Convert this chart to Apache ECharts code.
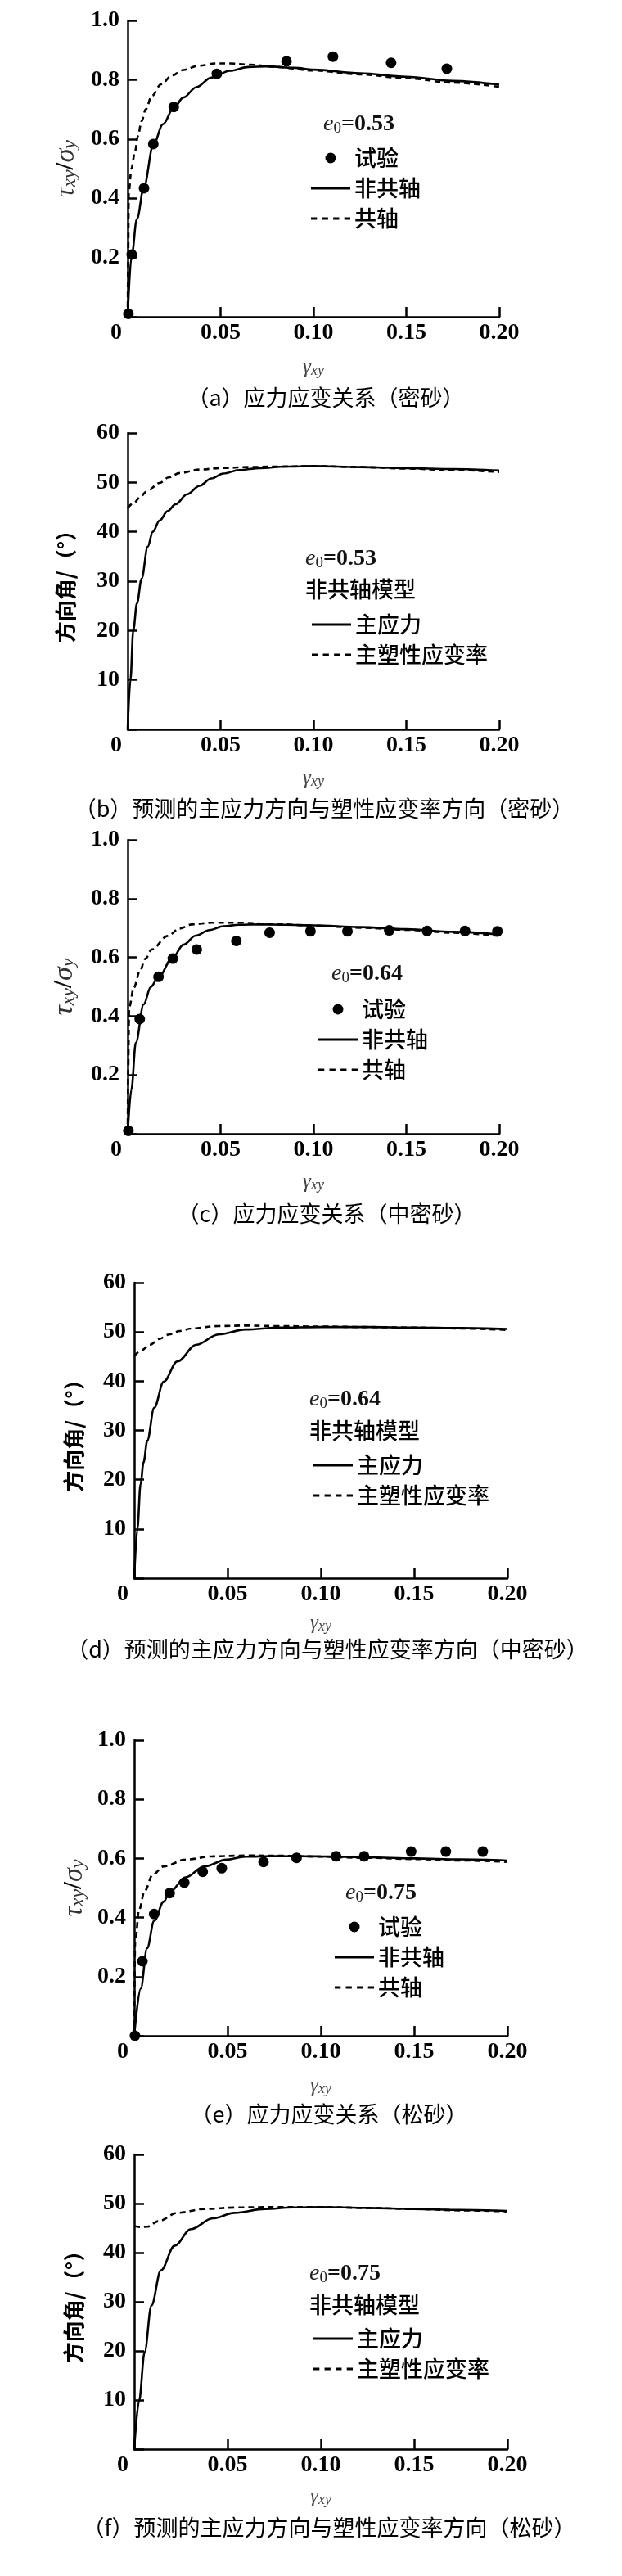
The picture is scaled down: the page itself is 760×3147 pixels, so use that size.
<!DOCTYPE html>
<html>
<head>
<meta charset="utf-8">
<script src="https://cdn.jsdelivr.net/npm/echarts/dist/echarts.min.js"></script>
<style>
html,body{margin:0;padding:0;background:#fff;}
#c{width:760px;height:3147px;}
</style>
</head>
<body>
<div id="c"></div>
<script>
// ---------- tick labels ----------
const xTickLabels = ['0', '0.05', '0.10', '0.15', '0.20'];
const stressTickLabels = ['', '0.2', '0.4', '0.6', '0.8', '1.0'];
const angleTickLabels = ['', '10', '20', '30', '40', '50', '60'];

// ---------- (a) dense sand, e0 = 0.53 ----------
const aTestGamma = [0.0004, 0.0022, 0.0088, 0.0138, 0.0248, 0.048, 0.0855, 0.1105, 0.1418, 0.1718];
const aTestRatio = [0.01, 0.21, 0.434, 0.583, 0.708, 0.82, 0.862, 0.878, 0.857, 0.837];
const aNonCoaxGamma = [0, 0.002, 0.005, 0.0088, 0.0138, 0.019, 0.0248, 0.030, 0.037, 0.045, 0.055, 0.065, 0.075, 0.090, 0.100, 0.125, 0.150, 0.175, 0.200];
const aNonCoaxRatio = [0, 0.20, 0.33, 0.44, 0.58, 0.65, 0.705, 0.74, 0.775, 0.807, 0.83, 0.843, 0.845, 0.840, 0.834, 0.822, 0.810, 0.796, 0.783];
const aCoaxGamma = [0, 0.0003, 0.0006, 0.002, 0.004, 0.0055, 0.0075, 0.0097, 0.013, 0.018, 0.024, 0.030, 0.038, 0.047, 0.055, 0.065, 0.080, 0.100, 0.125, 0.150, 0.175, 0.200];
const aCoaxRatio = [0, 0.20, 0.42, 0.50, 0.56, 0.61, 0.66, 0.70, 0.745, 0.785, 0.815, 0.833, 0.847, 0.855, 0.855, 0.851, 0.843, 0.831, 0.818, 0.805, 0.790, 0.776];

// ---------- (b) dense sand directions ----------
const bStressGamma = [0, 0.0015, 0.003, 0.005, 0.0075, 0.0108, 0.0135, 0.0172, 0.0215, 0.0258, 0.032, 0.0387, 0.045, 0.0515, 0.060, 0.071, 0.085, 0.100, 0.125, 0.150, 0.175, 0.200];
const bStressAngle = [0, 10, 20, 25.5, 30.5, 37, 40, 42.3, 44.2, 45.6, 47.6, 49.3, 50.8, 51.8, 52.5, 52.9, 53.2, 53.3, 53.1, 52.9, 52.7, 52.4];
const bStrainGamma = [0, 0.0035, 0.0066, 0.010, 0.0172, 0.022, 0.028, 0.0387, 0.050, 0.065, 0.080, 0.100, 0.125, 0.150, 0.175, 0.200];
const bStrainAngle = [44.8, 45.9, 47.0, 48.1, 49.9, 51.0, 51.9, 52.6, 52.9, 53.1, 53.2, 53.3, 53.1, 52.8, 52.5, 52.1];

// ---------- (c) medium dense sand, e0 = 0.64 ----------
const cTestGamma = [0.0004, 0.0065, 0.0166, 0.0243, 0.0372, 0.0585, 0.0764, 0.0984, 0.1183, 0.1408, 0.1612, 0.1816, 0.199];
const cTestRatio = [0.01, 0.39, 0.534, 0.596, 0.627, 0.656, 0.684, 0.689, 0.689, 0.692, 0.690, 0.690, 0.689];
const cNonCoaxGamma = [0, 0.002, 0.0044, 0.0086, 0.0125, 0.0166, 0.0243, 0.030, 0.0366, 0.044, 0.0516, 0.060, 0.0717, 0.085, 0.100, 0.125, 0.150, 0.175, 0.200];
const cNonCoaxRatio = [0, 0.15, 0.31, 0.44, 0.50, 0.534, 0.60, 0.643, 0.674, 0.693, 0.706, 0.711, 0.712, 0.711, 0.709, 0.703, 0.696, 0.687, 0.678];
const cCoaxGamma = [0, 0.0003, 0.0008, 0.0033, 0.0065, 0.0095, 0.013, 0.0215, 0.028, 0.0344, 0.045, 0.060, 0.080, 0.100, 0.125, 0.150, 0.175, 0.200];
const cCoaxRatio = [0, 0.22, 0.43, 0.497, 0.552, 0.595, 0.627, 0.673, 0.698, 0.712, 0.718, 0.718, 0.713, 0.708, 0.701, 0.694, 0.684, 0.673];

// ---------- (d) medium dense sand directions ----------
const dStressGamma = [0, 0.0017, 0.0034, 0.005, 0.007, 0.0107, 0.0158, 0.0231, 0.0333, 0.045, 0.0596, 0.0779, 0.100, 0.125, 0.150, 0.175, 0.200];
const dStressAngle = [0, 10, 19.1, 23.5, 27.9, 34.6, 39.9, 44.0, 47.4, 49.5, 50.5, 50.9, 51.0, 51.0, 50.9, 50.8, 50.6];
const dStrainGamma = [0, 0.004, 0.0084, 0.0135, 0.0187, 0.0245, 0.0303, 0.045, 0.060, 0.075, 0.100, 0.125, 0.150, 0.175, 0.200];
const dStrainAngle = [45.1, 46.3, 47.4, 48.6, 49.5, 50.2, 50.7, 51.2, 51.3, 51.2, 51.1, 51.0, 50.9, 50.7, 50.4];

// ---------- (e) loose sand, e0 = 0.75 ----------
const eTestGamma = [0.0004, 0.0044, 0.0107, 0.019, 0.0268, 0.0367, 0.0469, 0.0693, 0.087, 0.1082, 0.1232, 0.1484, 0.167, 0.1868];
const eTestRatio = [0.0, 0.252, 0.412, 0.483, 0.518, 0.555, 0.567, 0.588, 0.602, 0.607, 0.607, 0.623, 0.623, 0.623];
const eNonCoaxGamma = [0, 0.0035, 0.0069, 0.0107, 0.0158, 0.019, 0.0275, 0.0377, 0.0494, 0.0596, 0.075, 0.100, 0.125, 0.150, 0.175, 0.200];
const eNonCoaxRatio = [0, 0.16, 0.296, 0.389, 0.454, 0.486, 0.536, 0.573, 0.596, 0.606, 0.608, 0.607, 0.604, 0.600, 0.597, 0.593];
const eCoaxGamma = [0, 0.0005, 0.0026, 0.0056, 0.010, 0.0158, 0.0275, 0.042, 0.060, 0.080, 0.100, 0.125, 0.150, 0.175, 0.200];
const eCoaxRatio = [0, 0.316, 0.426, 0.49, 0.546, 0.573, 0.596, 0.607, 0.610, 0.609, 0.606, 0.602, 0.598, 0.593, 0.588];

// ---------- (f) loose sand directions ----------
const fStressGamma = [0, 0.0026, 0.0056, 0.0092, 0.0143, 0.0216, 0.0304, 0.0421, 0.0538, 0.070, 0.085, 0.100, 0.125, 0.150, 0.175, 0.200];
const fStressAngle = [0, 9.8, 19.8, 29.2, 36.4, 41.4, 44.8, 47.0, 48.1, 48.9, 49.2, 49.3, 49.1, 48.9, 48.7, 48.5];
const fStrainGamma = [0, 0.0035, 0.007, 0.0129, 0.0231, 0.0377, 0.055, 0.075, 0.100, 0.125, 0.150, 0.175, 0.200];
const fStrainAngle = [45.4, 45.2, 45.3, 46.4, 48.1, 48.9, 49.2, 49.3, 49.3, 49.1, 48.9, 48.6, 48.4];

// ---------- texts ----------
const e0Values = ['0.53', '0.53', '0.64', '0.64', '0.75', '0.75'];
const captions = [
  '（a）应力应变关系（密砂）',
  '（b）预测的主应力方向与塑性应变率方向（密砂）',
  '（c）应力应变关系（中密砂）',
  '（d）预测的主应力方向与塑性应变率方向（中密砂）',
  '（e）应力应变关系（松砂）',
  '（f）预测的主应力方向与塑性应变率方向（松砂）'
];

const zip = (xs, ys) => xs.map((x, i) => [x, ys[i]]);

// ---------- layout (pixels) ----------
const layout = [
  {kind:'stress', left:156, top:25,   w:454, h:362, xGap:49, yGap:58, e0:[395,152],  legend:[375,174],  model:null,       cap:[398,486]},
  {kind:'angle',  left:156, top:529,  w:454, h:362, xGap:47, yGap:63, e0:[373,683],  legend:[376,744],  model:[373,720],  cap:[396,988]},
  {kind:'stress', left:156, top:1026, w:454, h:359, xGap:46, yGap:60, e0:[405,1190], legend:[384,1214], model:null,       cap:[399,1483]},
  {kind:'angle',  left:164, top:1567, w:456, h:361, xGap:42, yGap:61, e0:[378,1710], legend:[378,1771], model:[378,1748], cap:[400,2015]},
  {kind:'stress', left:164, top:2126, w:456, h:361, xGap:48, yGap:56, e0:[422,2313], legend:[404,2335], model:null,       cap:[402,2583]},
  {kind:'angle',  left:164, top:2632, w:456, h:360, xGap:45, yGap:61, e0:[378,2778], legend:[378,2838], model:[378,2816], cap:[402,3088]}
];

const panelSeries = [
  {test: zip(aTestGamma, aTestRatio), solid: zip(aNonCoaxGamma, aNonCoaxRatio), dash: zip(aCoaxGamma, aCoaxRatio)},
  {solid: zip(bStressGamma, bStressAngle), dash: zip(bStrainGamma, bStrainAngle)},
  {test: zip(cTestGamma, cTestRatio), solid: zip(cNonCoaxGamma, cNonCoaxRatio), dash: zip(cCoaxGamma, cCoaxRatio)},
  {solid: zip(dStressGamma, dStressAngle), dash: zip(dStrainGamma, dStrainAngle)},
  {test: zip(eTestGamma, eTestRatio), solid: zip(eNonCoaxGamma, eNonCoaxRatio), dash: zip(eCoaxGamma, eCoaxRatio)},
  {solid: zip(fStressGamma, fStressAngle), dash: zip(fStrainGamma, fStrainAngle)}
];

const SERIF = '"Liberation Serif", "Times New Roman", serif';
const CJK = '"Noto Sans CJK SC", sans-serif';
const BLACK = '#000';
const solidIcon = 'path://M0,0H48V3H0Z';
const dashIcon = 'path://M0,0H7V3H0Z M13,0H20V3H13Z M26,0H33V3H26Z M39,0H46V3H39Z';

const tickLabelStyle = {color: BLACK, fontFamily: SERIF, fontWeight: 'bold', fontSize: 28};

const option = {
  backgroundColor: '#fff',
  animation: false,
  grid: layout.map(p => ({left: p.left, top: p.top, width: p.w, height: p.h})),
  xAxis: layout.map((p, i) => ({
    gridIndex: i, type: 'value', min: 0, max: 0.2, interval: 0.05,
    axisLine: {lineStyle: {color: BLACK, width: 2.5}},
    axisTick: {inside: true, length: 12, lineStyle: {color: BLACK, width: 2.5}},
    splitLine: {show: false},
    axisLabel: Object.assign({}, tickLabelStyle, {
      margin: 6,
      formatter: v => {
        const k = Math.round(v / 0.05);
        return k === 0 ? '{z|' + xTickLabels[0] + '}' : xTickLabels[k];
      },
      rich: {z: Object.assign({}, tickLabelStyle, {padding: [0, 28, 0, 0]})}
    }),
    name: '{g|γ}{s|xy}', nameLocation: 'middle', nameGap: p.xGap,
    nameTextStyle: {
      rich: {
        g: {fontFamily: SERIF, fontStyle: 'italic', fontSize: 25, color: '#444'},
        s: {fontFamily: SERIF, fontStyle: 'italic', fontSize: 18, color: '#444', verticalAlign: 'bottom', padding: [8, 0, 0, 0]}
      }
    }
  })),
  yAxis: layout.map((p, i) => {
    const stress = p.kind === 'stress';
    return {
      gridIndex: i, type: 'value', min: 0, max: stress ? 1.0 : 60, interval: stress ? 0.2 : 10,
      axisLine: {lineStyle: {color: BLACK, width: 2.5}},
      axisTick: {inside: true, length: 12, lineStyle: {color: BLACK, width: 2.5}},
      splitLine: {show: false},
      axisLabel: Object.assign({}, tickLabelStyle, {
        margin: 10,
        formatter: v => stress ? stressTickLabels[Math.round(v / 0.2)] : angleTickLabels[Math.round(v / 10)]
      }),
      name: stress ? '{t|τ}{s|xy}{d|/}{t|σ}{s|y}' : '方向角/（°）',
      nameLocation: 'middle', nameRotate: 90, nameGap: p.yGap,
      nameTextStyle: stress ? {
        rich: {
          t: {fontFamily: SERIF, fontStyle: 'italic', fontSize: 34, color: '#333'},
          s: {fontFamily: SERIF, fontStyle: 'italic', fontSize: 24, color: '#333', verticalAlign: 'bottom', padding: [10, 0, 0, 0]},
          d: {fontFamily: SERIF, fontWeight: 'bold', fontSize: 32, color: '#111'}
        }
      } : {fontFamily: CJK, fontWeight: 'bold', fontSize: 26, color: BLACK}
    };
  }),
  legend: layout.map((p, i) => ({
    left: p.legend[0], top: p.legend[1], orient: 'vertical',
    itemWidth: 48, itemHeight: 13, itemGap: 9, selectedMode: false,
    symbolKeepAspect: true,
    textStyle: {fontFamily: CJK, fontSize: 27, fontWeight: 500, color: BLACK, lineHeight: 28},
    data: p.kind === 'stress'
      ? [{name: '试验', icon: 'circle'}, {name: '非共轴', icon: solidIcon}, {name: '共轴', icon: dashIcon}]
      : [{name: '主应力', icon: solidIcon}, {name: '主塑性应变率', icon: dashIcon}]
  })),
  series: [],
  graphic: []
};

layout.forEach((p, i) => {
  const d = panelSeries[i];
  const stress = p.kind === 'stress';
  option.series.push({
    name: stress ? '非共轴' : '主应力', type: 'line', xAxisIndex: i, yAxisIndex: i,
    data: d.solid, symbol: 'none', smooth: 0.35, smoothMonotone: 'x',
    lineStyle: {color: BLACK, width: 2.6, type: 'solid'}, itemStyle: {color: BLACK}, z: 2
  });
  option.series.push({
    name: stress ? '共轴' : '主塑性应变率', type: 'line', xAxisIndex: i, yAxisIndex: i,
    data: d.dash, symbol: 'none', smooth: 0.35, smoothMonotone: 'x',
    lineStyle: {color: BLACK, width: 2.6, type: [7, 5]}, itemStyle: {color: BLACK}, z: 2
  });
  if (stress) {
    option.series.push({
      name: '试验', type: 'scatter', xAxisIndex: i, yAxisIndex: i,
      data: d.test, symbol: 'circle', symbolSize: 13,
      itemStyle: {color: BLACK, opacity: 1}, z: 3
    });
  }
  option.graphic.push({
    type: 'text', x: p.e0[0], y: p.e0[1],
    style: {
      text: '{e|e}{o|0}{v|=' + e0Values[i] + '}',
      verticalAlign: 'middle', align: 'left',
      rich: {
        e: {fontFamily: SERIF, fontStyle: 'italic', fontSize: 28, fill: '#222'},
        o: {fontFamily: SERIF, fontSize: 19, fill: '#222', verticalAlign: 'bottom', padding: [10, 0, 0, 0]},
        v: {fontFamily: SERIF, fontWeight: 'bold', fontSize: 28, fill: '#111'}
      }
    }
  });
  if (p.model) {
    option.graphic.push({
      type: 'text', x: p.model[0], y: p.model[1],
      style: {text: '非共轴模型', font: '500 27px ' + CJK, fill: BLACK, verticalAlign: 'middle', align: 'left'}
    });
  }
  option.graphic.push({
    type: 'text', x: p.cap[0], y: p.cap[1],
    style: {text: captions[i], font: '27px ' + CJK, fill: BLACK, verticalAlign: 'middle', align: 'center'}
  });
});

const chart = echarts.init(document.getElementById('c'), null, {renderer: 'canvas'});
chart.setOption(option);
</script>
</body>
</html>
